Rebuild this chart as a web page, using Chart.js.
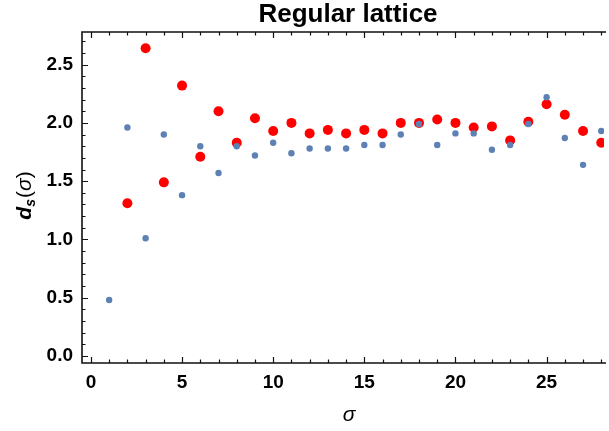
<!DOCTYPE html>
<html>
<head>
<meta charset="utf-8">
<title>Regular lattice</title>
<script src="https://cdn.jsdelivr.net/npm/chart.js"></script>
<style>
  html, body { margin: 0; padding: 0; background: #fff; }
  #wrap { width: 609px; height: 431px; }
</style>
</head>
<body>
<div id="wrap"><canvas id="latticeChart" width="609" height="431"></canvas></div>
<script>
// sigma values and spectral dimension d_s(sigma)
const sigmaBlue = [1, 2, 3, 4, 5, 6, 7, 8, 9, 10, 11, 12, 13, 14, 15, 16, 17, 18, 19, 20, 21, 22, 23, 24, 25, 26, 27, 28];
const dsBlue = [0.48, 1.96, 1.01, 1.90, 1.38, 1.80, 1.57, 1.80, 1.72, 1.83, 1.74, 1.78, 1.78, 1.78,
                1.81, 1.81, 1.90, 1.99, 1.81, 1.91, 1.91, 1.77, 1.81, 1.99, 2.22, 1.87, 1.64, 1.93];

const sigmaRed = [2, 3, 4, 5, 6, 7, 8, 9, 10, 11, 12, 13, 14, 15, 16, 17, 18, 19, 20, 21, 22, 23, 24, 25, 26, 27, 28];
const dsRed = [1.31, 2.64, 1.49, 2.32, 1.71, 2.10, 1.83, 2.04, 1.93, 2.00, 1.91, 1.94, 1.91, 1.94,
               1.91, 2.00, 2.00, 2.03, 2.00, 1.96, 1.97, 1.85, 2.01, 2.16, 2.07, 1.93, 1.83];

// axis ticks
const xMajorTicks = [0, 5, 10, 15, 20, 25];
const yMajorTicks = [0, 0.5, 1.0, 1.5, 2.0, 2.5];

const FONT = "'Liberation Sans', Arial, sans-serif";
const FRAME_COLOR = "#111";

function toPoints(xs, ys) {
  return xs.map((x, i) => ({ x: x, y: ys[i] }));
}

// Mathematica-like frame: inward major/minor ticks, titles
const framePlugin = {
  id: "frame",
  afterDraw(chart) {
    const ctx = chart.ctx;
    const area = chart.chartArea;
    const xs = chart.scales.x;
    const ys = chart.scales.y;

    ctx.save();
    ctx.strokeStyle = FRAME_COLOR;

    // frame lines (right side is outside the picture)
    ctx.lineWidth = 1.6;
    ctx.beginPath();
    ctx.moveTo(area.right + 2, area.top);
    ctx.lineTo(area.left, area.top);
    ctx.lineTo(area.left, area.bottom);
    ctx.lineTo(area.right + 2, area.bottom);
    ctx.stroke();

    // x ticks, bottom and top
    ctx.lineWidth = 1.2;
    ctx.beginPath();
    for (let v = 0; v <= 28; v++) {
      const len = v % 5 === 0 ? 6 : 3.5;
      const px = Math.round(xs.getPixelForValue(v)) + 0.5;
      ctx.moveTo(px, area.bottom);
      ctx.lineTo(px, area.bottom - len);
      ctx.moveTo(px, area.top);
      ctx.lineTo(px, area.top + len);
    }
    // y ticks, left
    for (let k = 0; k <= 27; k++) {
      const v = k / 10;
      const len = k % 5 === 0 ? 6 : 3.5;
      const py = Math.round(ys.getPixelForValue(v)) + 0.5;
      ctx.moveTo(area.left, py);
      ctx.lineTo(area.left + len, py);
    }
    ctx.stroke();

    // title, centred over the plot range
    ctx.fillStyle = "#000";
    ctx.textAlign = "center";
    ctx.textBaseline = "alphabetic";
    ctx.font = "bold 26px " + FONT;
    ctx.fillText("Regular lattice", 348, 22);

    // x axis label
    ctx.font = "italic 21px " + FONT;
    ctx.fillText("σ", 349, 421);

    // y axis label d_s(σ), rotated
    ctx.translate(31, 196);
    ctx.rotate(-Math.PI / 2);
    const parts = [
      { t: "d", f: "bold italic 21px " + FONT, dy: 0 },
      { t: "s", f: "bold italic 14px " + FONT, dy: 4 },
      { t: "(", f: "21px " + FONT, dy: 0 },
      { t: "σ", f: "italic 21px " + FONT, dy: 0 },
      { t: ")", f: "21px " + FONT, dy: 0 }
    ];
    let total = 0;
    parts.forEach(p => { ctx.font = p.f; p.w = ctx.measureText(p.t).width; total += p.w; });
    let cx = -total / 2;
    ctx.textAlign = "left";
    parts.forEach(p => {
      ctx.font = p.f;
      ctx.fillText(p.t, cx, p.dy);
      cx += p.w + (p.t === "s" ? 1 : 0);
    });
    ctx.restore();
  }
};

const chart = new Chart(document.getElementById("latticeChart"), {
  type: "scatter",
  data: {
    datasets: [
      {
        label: "blue",
        data: toPoints(sigmaBlue, dsBlue),
        backgroundColor: "#5e81b5",
        borderWidth: 0,
        pointRadius: 3.2,
        order: 0
      },
      {
        label: "red",
        data: toPoints(sigmaRed, dsRed),
        backgroundColor: "#ff0000",
        borderWidth: 0,
        pointRadius: 5,
        order: 1
      }
    ]
  },
  options: {
    responsive: false,
    animation: false,
    layout: {
      padding: { top: 32, right: 0, left: 0, bottom: 0 }
    },
    plugins: {
      legend: { display: false },
      tooltip: { enabled: false },
      title: { display: false }
    },
    scales: {
      x: {
        type: "linear",
        min: -0.49,
        max: 28.15,
        grid: { display: false, drawTicks: false },
        border: { display: false },
        afterBuildTicks: scale => { scale.ticks = xMajorTicks.map(v => ({ value: v })); },
        afterFit: scale => { scale.height = 68; },
        ticks: {
          padding: 8,
          maxRotation: 0,
          color: "#000",
          font: { family: FONT, size: 19, weight: "bold" },
          callback: v => String(v)
        }
      },
      y: {
        type: "linear",
        min: -0.06,
        max: 2.78,
        grid: { display: false, drawTicks: false },
        border: { display: false },
        afterBuildTicks: scale => { scale.ticks = yMajorTicks.map(v => ({ value: v })); },
        afterFit: scale => { scale.width = 82; },
        ticks: {
          padding: 9,
          color: "#000",
          font: { family: FONT, size: 19, weight: "bold" },
          callback: v => Number(v).toFixed(1)
        }
      }
    }
  },
  plugins: [framePlugin]
});
</script>
</body>
</html>
